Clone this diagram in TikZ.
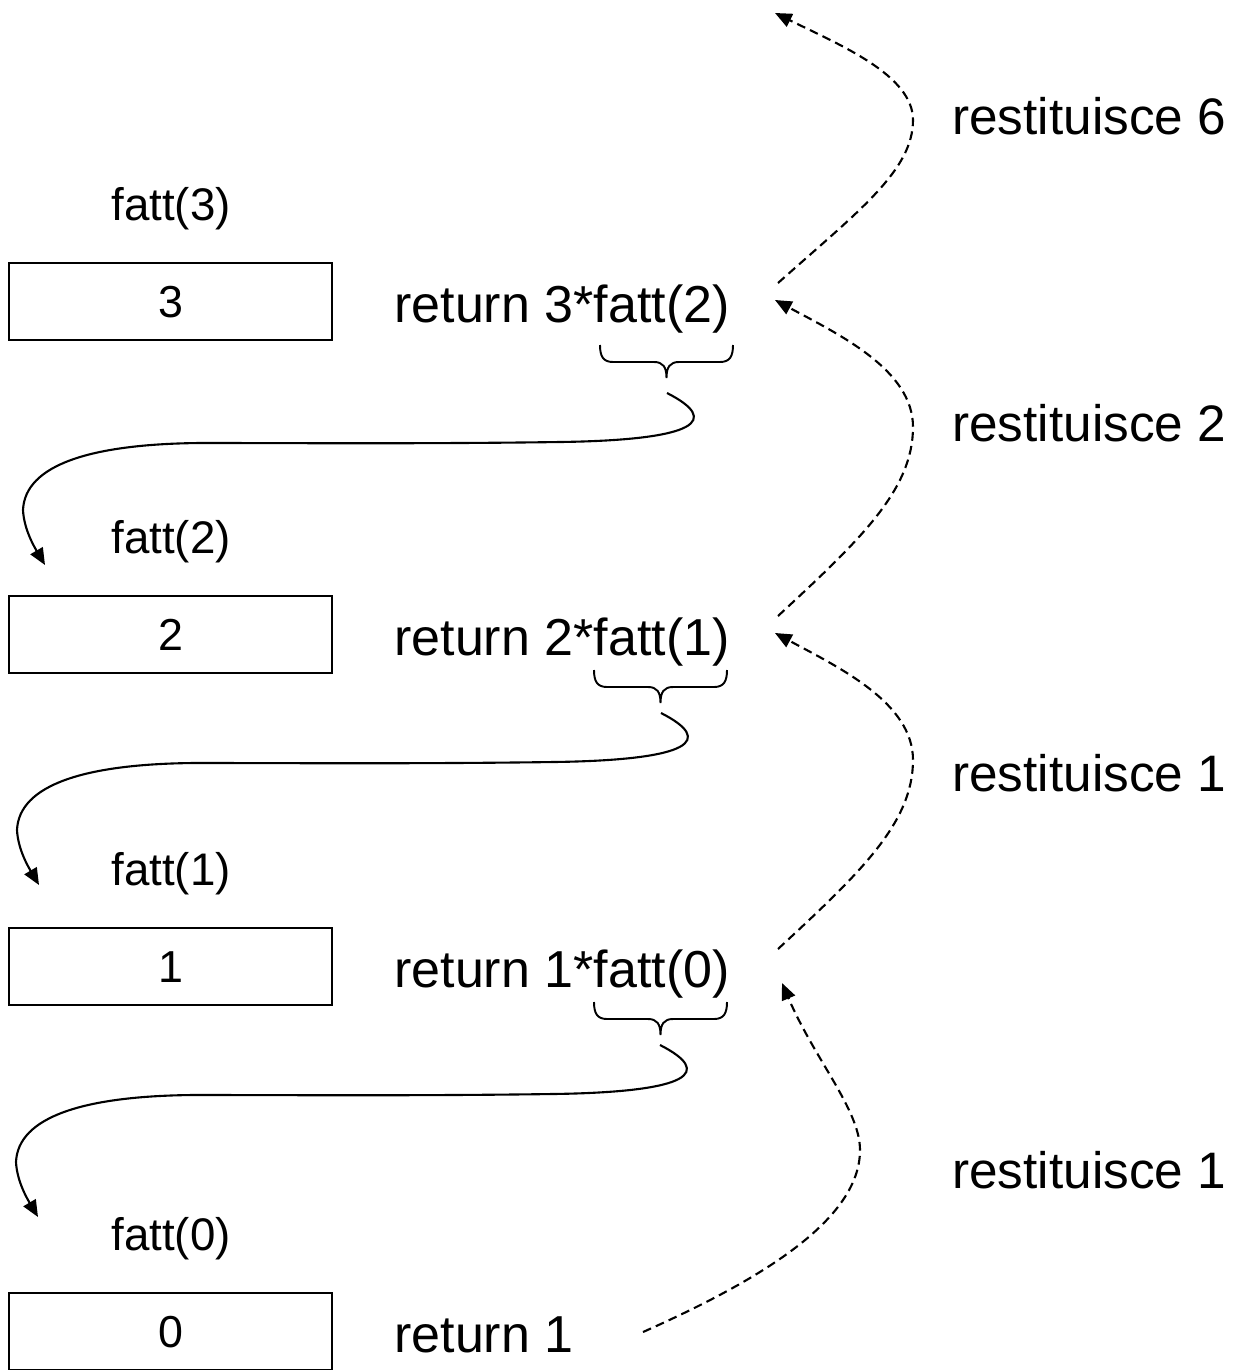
\documentclass[tikz,border=0pt]{standalone}
\usepackage{fontspec}
\setmainfont{Liberation Sans}
\usetikzlibrary{arrows.meta}
\begin{document}
\begin{tikzpicture}[x=0.02cm,y=-0.02cm,
  box/.style={draw,line width=1.1pt,minimum width=6.46cm,minimum height=1.54cm,inner sep=0pt,
    text height=18.2pt,text depth=0pt,font=\fontsize{25.5}{30}\selectfont},
  lbl/.style={anchor=base,inner sep=0pt,font=\fontsize{26}{30}\selectfont},
  big/.style={anchor=base west,inner sep=0pt,font=\fontsize{29.6}{34}\selectfont},
  res/.style={anchor=base west,inner sep=0pt,font=\fontsize{29.2}{34}\selectfont},
  call/.style={line width=1.2pt,-{Triangle[length=9.5pt,width=8pt]}},
  ret/.style={line width=1.2pt,dash pattern=on 5pt off 3pt,-{Triangle[length=9.5pt,width=8pt]}},
  ubrace/.pic={\draw[line width=1.1pt] (0,0) .. controls (0,11) and (3,17) .. (13,17) -- (54,17)
     .. controls (63,17) and (66.5,22) .. (66.5,33) .. controls (66.5,22) and (70,17) .. (79,17)
     -- (120,17) .. controls (130,17) and (133,11) .. (133,0);}]
\useasboundingbox (0,0) rectangle (1238,1370);

% frames
\node[lbl] (l3) at (171,220) {fatt(3)};
\node[box] (b3) at (170.5,301.5) {3};
\node[lbl] (l2) at (171,553) {fatt(2)};
\node[box] (b2) at (170.5,634.5) {2};
\node[lbl] (l1) at (171,885) {fatt(1)};
\node[box] (b1) at (170.5,966.5) {1};
\node[lbl] (l0) at (171,1250) {fatt(0)};
\node[box] (b0) at (170.5,1331.5) {0};

% return statements
\node[big] (r3) at (394,322) {return 3*fatt(2)};
\node[big] (r2) at (394,655) {return 2*fatt(1)};
\node[big] (r1) at (394,987) {return 1*fatt(0)};
\node[big] (r0) at (394,1352) {return 1};

% returned values
\node[res] (t6) at (952,134) {restituisce 6};
\node[res] (t2) at (952,441) {restituisce 2};
\node[res] (t1a) at (952,791) {restituisce 1};
\node[res] (t1b) at (952,1188) {restituisce 1};

% braces
\pic at (600,345) {ubrace};
\pic at (594,670) {ubrace};
\pic at (594,1002) {ubrace};

% calls
\coordinate (s1) at (667,393); \coordinate (e1) at (45,565);
\draw[call] (s1) .. controls (720,420) and (700,440) .. (560,442)
  .. controls (420,444) and (300,443) .. (200,443)
  .. controls (90,444) and (25,465) .. (23,510)
  .. controls (24,530) and (35,548) .. (e1);
\begin{scope}[shift={(-6,320)}]
\coordinate (s2) at (667,393); \coordinate (e2) at (45,565);
\draw[call] (s2) .. controls (720,420) and (700,440) .. (560,442)
  .. controls (420,444) and (300,443) .. (200,443)
  .. controls (90,444) and (25,465) .. (23,510)
  .. controls (24,530) and (35,548) .. (e2);
\end{scope}
\begin{scope}[shift={(-7,652)}]
\coordinate (s3) at (667,393); \coordinate (e3) at (45,565);
\draw[call] (s3) .. controls (720,420) and (700,440) .. (560,442)
  .. controls (420,444) and (300,443) .. (200,443)
  .. controls (90,444) and (25,465) .. (23,510)
  .. controls (24,530) and (35,548) .. (e3);
\end{scope}

% returns
\coordinate (d1s) at (778,283); \coordinate (d1e) at (775,13);
\draw[ret] (d1s) .. controls (860,210) and (913,170) .. (913,120)
  .. controls (913,75) and (840,45) .. (d1e);
\coordinate (d2s) at (778,616); \coordinate (d2e) at (775,300);
\draw[ret] (d2s) .. controls (860,540) and (913,490) .. (913,427)
  .. controls (913,370) and (840,335) .. (d2e);
\coordinate (d3s) at (778,949); \coordinate (d3e) at (775,633);
\draw[ret] (d3s) .. controls (860,873) and (913,823) .. (913,760)
  .. controls (913,703) and (840,668) .. (d3e);
\coordinate (d4s) at (643,1332); \coordinate (d4e) at (782,983);
\draw[ret] (d4s) .. controls (760,1280) and (860,1220) .. (860,1150)
  .. controls (860,1110) and (815,1060) .. (d4e);
\end{tikzpicture}
\end{document}
